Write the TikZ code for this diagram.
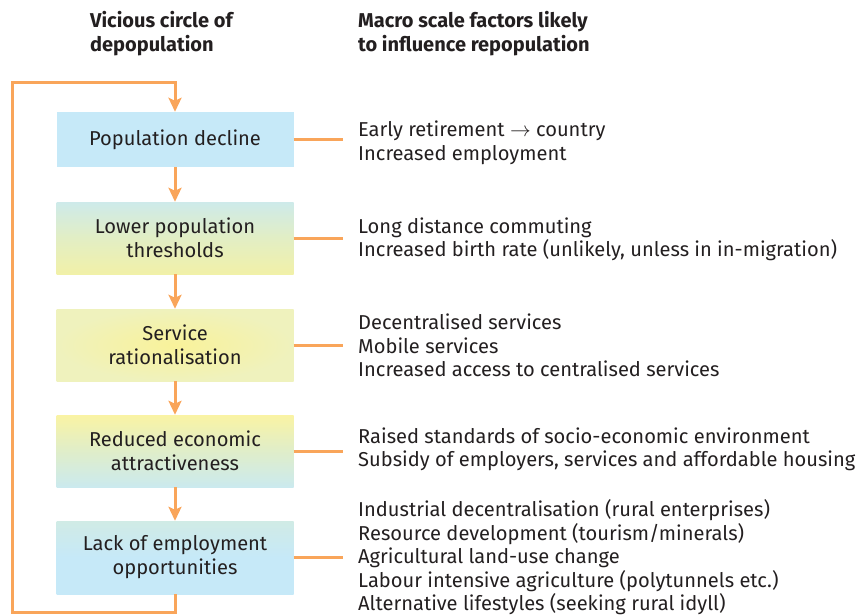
\documentclass[tikz,border=0pt]{standalone}
\usepackage{fontspec}
\setmainfont{Fira Sans}
\usetikzlibrary{arrows.meta,positioning}
\definecolor{org}{HTML}{F9A55A}
\definecolor{bl}{HTML}{C6E9F8}
\definecolor{yl}{HTML}{F9F29A}
\definecolor{txt}{HTML}{231F20}
\begin{document}
\begin{tikzpicture}[x=1pt,y=-1pt,
  box/.style={minimum width=237pt,inner sep=0pt,align=center,text=txt,
    font=\fontsize{20.1}{24}\selectfont},
  fact/.style={anchor=west,inner sep=0pt,align=left,text=txt,
    font=\fontsize{20.1}{23.5}\selectfont},
  head/.style={anchor=north west,inner sep=0pt,align=left,text=txt,
    font=\bfseries\fontsize{20}{24}\selectfont},
  link/.style={draw=org,line width=3pt},
  arr/.style={link,-{Stealth[length=14pt,width=13pt,inset=3pt]}},
]
\useasboundingbox (0,0) rectangle (858,615);
\node[head] (h1) at (90,11) {Vicious circle of\\depopulation};
\node[head] (h2) at (358,11) {Macro scale factors likely\\to influence repopulation};

\node[box,minimum height=55pt,fill=bl] (b1) at (175,139.5) {Population decline};
\node[box,minimum height=72pt,top color=bl!85!yl,bottom color=yl!85!bl,middle color=yl!55!bl] (b2) at (175,238) {Lower population\\thresholds};
\node[box,minimum height=72pt,inner color=yl,outer color=yl!75!bl!85!white] (b3) at (175,345) {Service\\rationalisation};
\node[box,minimum height=72pt,top color=yl!90!white,bottom color=bl!90!yl,middle color=yl!50!bl] (b4) at (175,451) {Reduced economic\\attractiveness};
\node[box,minimum height=73pt,top color=bl!80!yl,bottom color=bl,middle color=bl] (b5) at (175,557.5) {Lack of employment\\opportunities};

\node[fact] (t1) at (358,143) {Early retirement \(\rightarrow\) country\\Increased employment};
\node[fact] (t2) at (358,239.5) {Long distance commuting\\Increased birth rate (unlikely, unless in in-migration)};
\node[fact] (t3) at (358,345.5) {Decentralised services\\Mobile services\\Increased access to centralised services};
\node[fact] (t4) at (358,449.5) {Raised standards of socio-economic environment\\Subsidy of employers, services and affordable housing};
\node[fact] (t5) at (358,557.5) {Industrial decentralisation (rural enterprises)\\Resource development (tourism/minerals)\\Agricultural land-use change\\Labour intensive agriculture (polytunnels etc.)\\Alternative lifestyles (seeking rural idyll)};

\draw[arr] (b1.south) -- (b2.north);
\draw[arr] (b2.south) -- (b3.north);
\draw[arr] (b3.south) -- (b4.north);
\draw[arr] (b4.south) -- (b5.north);

\coordinate (lb) at (12,612);
\coordinate (lt) at (12,83);
\draw[arr,line join=miter] (b5.south) |- (lb) -- (lt) -| (b1.north);

\foreach \i in {1,...,5}{
  \draw[link,shorten >=15pt] (b\i.east) -- (b\i.east -| t\i.west);
}
\end{tikzpicture}
\end{document}
